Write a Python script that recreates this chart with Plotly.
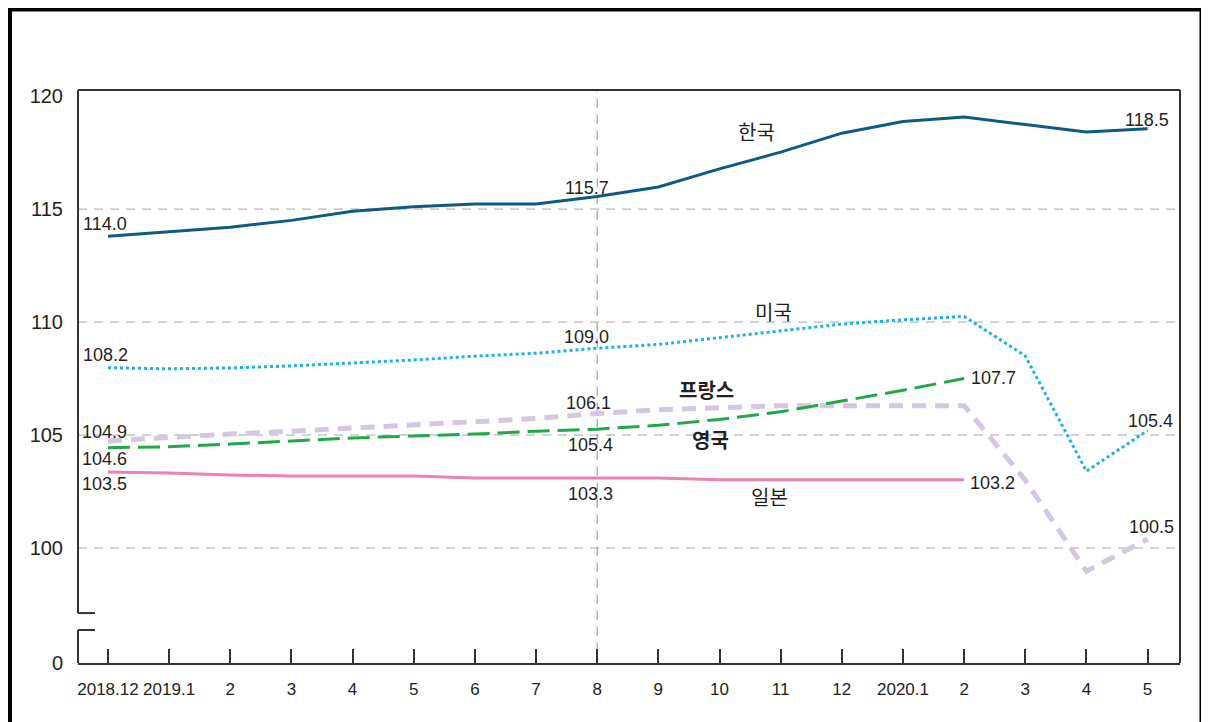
import plotly.graph_objects as go

# months 2018.12 ~ 2020.5
months = ["2018.12", "2019.1", "2", "3", "4", "5", "6", "7", "8", "9", "10", "11", "12",
          "2020.1", "2", "3", "4", "5"]
xs = list(range(len(months)))

# values (index, 2015=100)
korea = [113.8, 114.0, 114.2, 114.5, 114.9, 115.1, 115.23, 115.23, 115.56, 115.98, 116.78,
         117.52, 118.36, 118.88, 119.07, 118.74, 118.41, 118.55]
usa = [107.98, 107.93, 107.97, 108.06, 108.19, 108.32, 108.49, 108.62, 108.84, 109.01, 109.31,
       109.61, 109.91, 110.1, 110.25, 108.5, 103.4, 105.2]
france = [104.74, 104.91, 105.04, 105.17, 105.3, 105.43, 105.56, 105.73, 105.95, 106.12, 106.21,
          106.3, 106.3, 106.3, 106.3, 103.0, 98.97, 100.4]
uk = [104.44, 104.48, 104.6, 104.74, 104.87, 104.96, 105.04, 105.17, 105.26, 105.43, 105.69,
      106.03, 106.51, 106.98, 107.5, None, None, None]
japan = [103.36, 103.32, 103.23, 103.19, 103.19, 103.19, 103.1, 103.1, 103.1, 103.1, 103.02,
         103.02, 103.02, 103.02, 103.02, None, None, None]

ytick_vals = [94.91, 100, 105, 110, 115, 120]
ytick_text = ["0", "100", "105", "110", "115", "120"]
grid_vals = [100, 105, 110, 115]

NUM_FONT = "Liberation Sans, Arial"
KR_FONT = "Noto Sans CJK KR"

fig = go.Figure()

series = [
    ("프랑스", france, dict(color="#d6c6e1", width=5, dash="14px,9px")),
    ("미국", usa, dict(color="#1ab2ea", width=3, dash="dot")),
    ("영국", uk, dict(color="#22a84a", width=3, dash="22px,8px")),
    ("일본", japan, dict(color="#ef80b6", width=3)),
    ("한국", korea, dict(color="#0e5a85", width=3)),
]
for name, vals, ln in series:
    fig.add_trace(go.Scatter(x=xs, y=vals, mode="lines", name=name, line=ln,
                             connectgaps=False, hoverinfo="skip"))

# value labels: (series, index, text, xanchor, xshift, yshift)
data_labels = [
    (korea, 0, "114.0", "center", -3, 12),
    (korea, 8, "115.7", "center", -10, 8),
    (korea, 17, "118.5", "center", -1, 9),
    (usa, 0, "108.2", "center", -2, 13),
    (usa, 8, "109.0", "center", -11, 11),
    (usa, 17, "105.4", "center", 3, 10),
    (france, 0, "104.9", "center", -3, 9),
    (france, 8, "106.1", "center", -9, 11),
    (france, 17, "100.5", "center", 4, 12),
    (uk, 0, "104.6", "center", -3, -11),
    (uk, 8, "105.4", "center", -7, -16),
    (uk, 14, "107.7", "left", 5, 1),
    (japan, 0, "103.5", "center", -3, -12),
    (japan, 8, "103.3", "center", -7, -16),
    (japan, 14, "103.2", "left", 4, -3),
]
for vals, i, txt, xa, dx, dy in data_labels:
    fig.add_annotation(x=xs[i], y=vals[i], text=txt, showarrow=False, xanchor=xa,
                       xshift=dx, yshift=dy, font=dict(family=NUM_FONT, size=18, color="#231f20"))

# country names
names = [
    ("한국", 10.61, 118.45, False),
    ("미국", 10.88, 110.47, False),
    ("프랑스", 9.79, 107.0, True),
    ("영국", 9.86, 104.78, True),
    ("일본", 10.82, 102.3, False),
]
for txt, x, y, bold in names:
    fig.add_annotation(x=x, y=y, text=f"<b>{txt}</b>" if bold else txt, showarrow=False,
                       font=dict(family=KR_FONT, size=20, color="#231f20"))

shapes = []
for g in grid_vals:
    shapes.append(dict(type="line", xref="paper", yref="y", x0=0, x1=1, y0=g, y1=g,
                       line=dict(color="#a7a7a7", width=1, dash="9px,7px"), layer="below"))
shapes.append(dict(type="line", xref="x", yref="paper", x0=8, x1=8, y0=0.02, y1=1,
                   line=dict(color="#8a8a8a", width=1, dash="9px,7px"), layer="below"))
# plot frame with axis break on the left
frame = dict(color="#333333", width=2)
shapes += [
    dict(type="line", xref="paper", yref="paper", x0=0, x1=1, y0=1, y1=1, line=frame),
    dict(type="line", xref="paper", yref="paper", x0=1, x1=1, y0=0, y1=1, line=frame),
    dict(type="line", xref="paper", yref="y", x0=0, x1=0, y0=97.12, y1=120.27, line=frame),
    dict(type="line", xref="paper", yref="y", x0=0, x1=0.0154, y0=97.12, y1=97.12, line=frame),
    dict(type="line", xref="paper", yref="y", x0=0, x1=0.0154, y0=96.37, y1=96.37, line=frame),
    dict(type="line", xref="paper", yref="y", x0=0, x1=0, y0=94.91, y1=96.37, line=frame),
]
# outer box
shapes.append(dict(type="rect", xref="paper", yref="paper", x0=-0.0617, x1=1.0195,
                   y0=-0.12, y1=1.1405, line=dict(color="black", width=4)))

fig.update_layout(
    width=1201, height=714,
    margin=dict(l=70, r=29, t=82, b=59, autoexpand=False),
    paper_bgcolor="white", plot_bgcolor="white",
    showlegend=False,
    shapes=shapes,
    xaxis=dict(range=[-0.49, 17.53], tickmode="array", tickvals=xs, ticktext=months,
               tickangle=0, automargin=False,
               showgrid=False, zeroline=False, showline=True, linecolor="#333333", linewidth=2,
               ticks="inside", ticklen=14, tickwidth=2, tickcolor="#333333",
               ticklabelstandoff=10,
               tickfont=dict(family=NUM_FONT, size=17, color="#231f20")),
    yaxis=dict(range=[94.91, 120.27], tickmode="array", tickvals=ytick_vals, ticktext=ytick_text,
               automargin=False,
               showgrid=False, zeroline=False, showline=False, ticks="",
               ticklabelstandoff=14,
               tickfont=dict(family=NUM_FONT, size=20, color="#231f20")),
)

fig.write_html("out.html")
